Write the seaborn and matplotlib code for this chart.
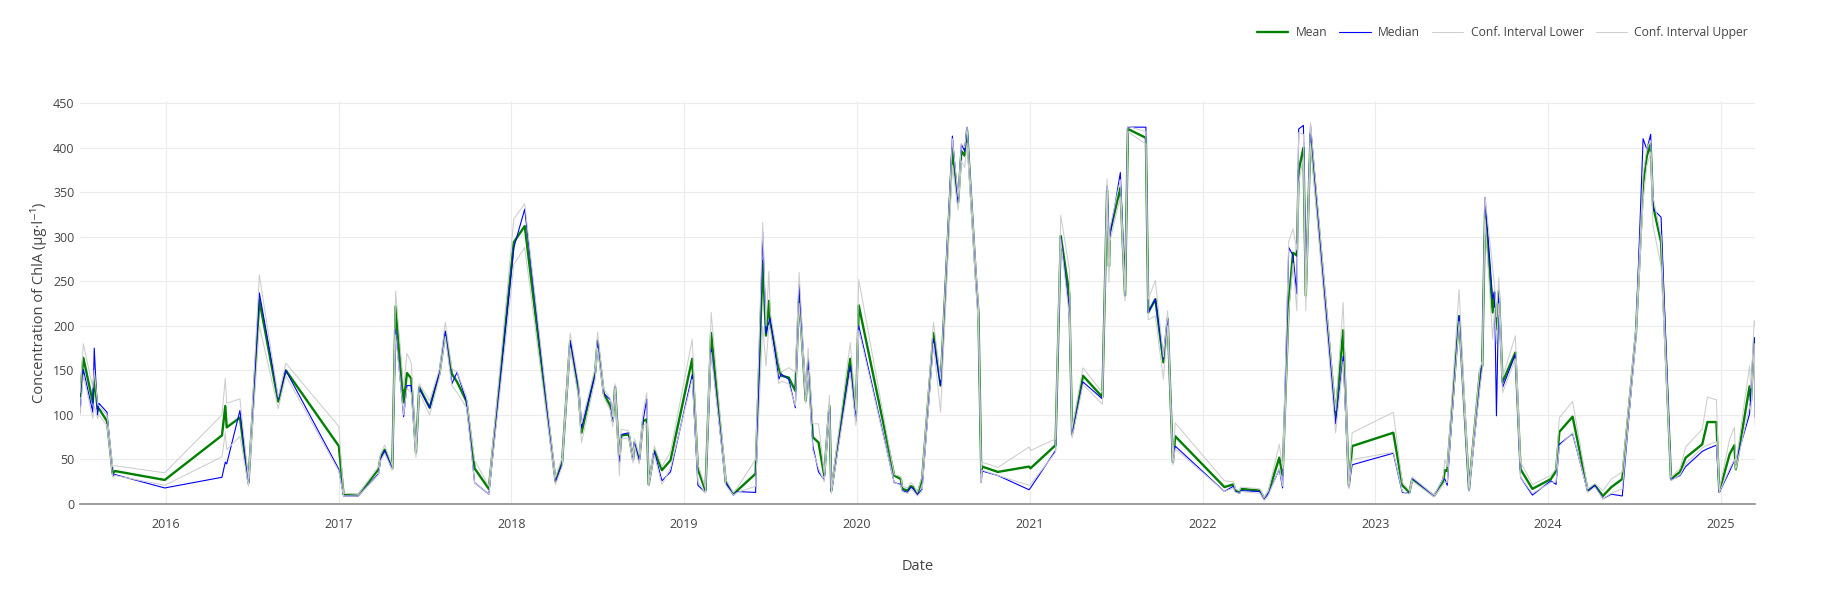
"""
ChlA concentration over time: mean, median and confidence interval bounds
"""

import matplotlib
matplotlib.use('Agg')
import matplotlib.pyplot as plt
import matplotlib.dates as mdates
import pandas as pd
import seaborn as sns

# ============================================================================
# Data
# ============================================================================
dates = [
    # 2015
    '2015-07-04', '2015-07-11', '2015-07-31', '2015-08-03', '2015-08-10', '2015-08-13',
    '2015-08-30', '2015-09-11', '2015-09-16', '2015-12-30',
    # 2016
    '2016-04-29', '2016-05-06', '2016-05-09', '2016-06-06', '2016-06-24', '2016-07-17',
    '2016-08-26', '2016-09-11',
    # 2017
    '2017-01-01', '2017-01-11', '2017-02-11', '2017-03-26', '2017-03-30', '2017-04-08',
    '2017-04-24', '2017-05-01', '2017-05-18', '2017-05-25', '2017-06-03', '2017-06-13',
    '2017-06-20', '2017-07-12', '2017-08-02', '2017-08-14', '2017-08-28', '2017-09-08',
    '2017-09-28', '2017-10-15', '2017-11-14',
    # 2018
    '2018-01-06', '2018-01-29', '2018-04-04', '2018-04-18', '2018-05-05', '2018-05-23',
    '2018-05-29', '2018-06-27', '2018-07-02', '2018-07-15', '2018-07-29', '2018-08-03',
    '2018-08-08', '2018-08-17', '2018-08-21', '2018-09-06', '2018-09-15', '2018-09-18',
    '2018-09-28', '2018-10-06', '2018-10-14', '2018-10-18', '2018-10-30', '2018-11-15',
    '2018-12-03',
    # 2019
    '2019-01-18', '2019-01-30', '2019-02-15', '2019-02-27', '2019-03-30', '2019-04-15',
    '2019-04-23', '2019-06-01', '2019-06-16', '2019-06-23', '2019-06-29', '2019-07-02',
    '2019-07-20', '2019-07-25', '2019-08-10', '2019-08-24', '2019-09-01', '2019-09-15',
    '2019-09-20', '2019-09-30', '2019-10-12', '2019-10-24', '2019-11-04', '2019-11-08',
    '2019-12-18', '2019-12-30',
    # 2020
    '2020-01-05', '2020-03-20', '2020-04-03', '2020-04-06', '2020-04-17', '2020-04-24',
    '2020-04-29', '2020-05-08', '2020-05-18', '2020-06-11', '2020-06-26', '2020-07-21',
    '2020-08-02', '2020-08-09', '2020-08-16', '2020-08-21', '2020-09-09', '2020-09-14',
    '2020-09-20', '2020-09-22', '2020-10-25', '2020-12-30',
    # 2021
    '2021-01-02', '2021-02-24', '2021-03-07', '2021-03-25', '2021-03-31', '2021-04-23',
    '2021-06-03', '2021-06-13', '2021-06-17', '2021-06-19', '2021-07-11', '2021-07-21',
    '2021-07-27', '2021-09-03', '2021-09-08', '2021-09-23', '2021-10-10', '2021-10-19',
    '2021-10-30', '2021-11-04',
    # 2022
    '2022-02-16', '2022-03-07', '2022-03-11', '2022-03-20', '2022-03-23', '2022-05-02',
    '2022-05-11', '2022-05-20', '2022-06-12', '2022-06-19', '2022-07-02', '2022-07-11',
    '2022-07-19', '2022-07-23', '2022-08-02', '2022-08-07', '2022-08-17', '2022-10-09',
    '2022-10-25', '2022-11-06', '2022-11-13',
    # 2023
    '2023-02-08', '2023-02-27', '2023-03-14', '2023-03-20', '2023-05-05', '2023-05-24',
    '2023-05-28', '2023-06-02', '2023-06-27', '2023-07-18', '2023-08-10', '2023-08-15',
    '2023-08-21', '2023-09-06', '2023-09-10', '2023-09-14', '2023-09-19', '2023-09-27',
    '2023-10-24', '2023-11-04', '2023-11-29',
    # 2024
    '2024-01-07', '2024-01-18', '2024-01-25', '2024-02-22', '2024-03-25', '2024-04-09',
    '2024-04-26', '2024-05-14', '2024-06-06', '2024-07-05', '2024-07-20', '2024-07-28',
    '2024-08-05', '2024-08-10', '2024-08-27', '2024-09-17', '2024-10-06', '2024-10-18',
    '2024-11-22', '2024-12-03', '2024-12-22', '2024-12-28',
    # 2025
    '2025-01-19', '2025-01-29', '2025-02-01', '2025-03-02', '2025-03-05', '2025-03-12',
    '2025-03-14',
]

mean_vals = [
    121, 164, 114, 144, 107, 107, 93, 34, 37, 27,
    77, 110, 86, 97, 24, 229, 115, 150,
    65, 11, 10, 39, 52, 61, 40, 222, 114, 147, 141, 58, 131, 108, 147, 193, 146, 137, 115, 40, 17,
    294, 312, 26, 47, 183, 125, 80, 148, 183, 124, 110, 93, 131, 49, 77, 78, 50, 69, 50, 93, 95, 22, 60, 38, 49,
    163, 39, 15, 192, 24, 11, 15, 34, 273, 189, 228, 204, 153, 144, 142, 127, 234, 116, 159, 75, 69, 32, 110, 15, 163, 99,
    223, 32, 28, 17, 15, 20, 19, 11, 28, 192, 133, 400, 338, 396, 391, 420, 252, 215, 35, 42, 36, 42,
    40, 66, 301, 236, 79, 144, 120, 352, 267, 305, 355, 234, 421, 411, 215, 230, 159, 208, 47, 76,
    19, 22, 15, 13, 17, 15, 6, 13, 52, 32, 226, 282, 279, 374, 400, 234, 415, 99, 195, 21, 65,
    80, 21, 13, 28, 9, 24, 38, 37, 211, 17, 148, 155, 329, 215, 237, 196, 239, 137, 170, 39, 17,
    28, 37, 81, 98, 15, 21, 9, 19, 28, 193, 359, 391, 404, 335, 294, 28, 36, 52, 67, 92, 92, 14,
    56, 66, 39, 132, 116, 185, 185,
]

median_vals = [
    103, 151, 103, 175, 100, 113, 103, 32, 33, 18,
    30, 47, 45, 105, 22, 237, 118, 150,
    39, 9, 9, 34, 50, 60, 40, 196, 98, 133, 133, 57, 130, 108, 148, 194, 135, 148, 115, 24, 11,
    288, 331, 24, 45, 183, 131, 86, 145, 184, 124, 117, 92, 132, 47, 78, 80, 49, 71, 47, 93, 118, 22, 59, 26, 36,
    145, 21, 13, 174, 24, 10, 14, 13, 305, 191, 204, 209, 140, 146, 140, 108, 247, 120, 163, 65, 36, 27, 110, 13, 155, 93,
    200, 24, 22, 15, 13, 19, 17, 10, 17, 185, 133, 413, 335, 404, 396, 423, 256, 208, 24, 37, 32, 16,
    18, 60, 300, 219, 77, 137, 118, 357, 297, 301, 372, 234, 423, 423, 215, 230, 163, 209, 47, 65,
    14, 20, 14, 12, 15, 14, 5, 12, 39, 18, 288, 279, 236, 421, 425, 241, 425, 90, 166, 19, 44,
    57, 13, 12, 29, 9, 28, 28, 21, 211, 15, 133, 159, 344, 230, 239, 99, 237, 131, 168, 30, 10,
    26, 22, 67, 79, 14, 21, 6, 11, 9, 193, 410, 398, 415, 331, 322, 27, 32, 42, 59, 62, 66, 13,
    37, 49, 47, 101, 125, 187, 97,
]

ci_lower = [
    100, 145, 96, 110, 96, 100, 88, 30, 32, 21,
    53, 80, 61, 76, 20, 200, 107, 144,
    37, 9, 9, 33, 48, 57, 38, 190, 100, 130, 125, 52, 125, 100, 143, 188, 133, 125, 108, 24, 11,
    269, 288, 22, 42, 175, 118, 69, 140, 175, 120, 105, 87, 125, 32, 73, 74, 46, 65, 45, 88, 90, 20, 55, 22, 40,
    140, 25, 12, 170, 21, 10, 13, 20, 200, 155, 200, 195, 135, 138, 135, 110, 225, 113, 150, 60, 40, 25, 100, 12, 148, 88,
    195, 24, 21, 14, 12, 16, 15, 9, 15, 180, 103, 380, 330, 385, 378, 405, 240, 200, 24, 38, 32, 21,
    22, 58, 297, 211, 74, 134, 112, 340, 249, 295, 345, 228, 418, 404, 207, 211, 140, 200, 44, 62,
    14, 18, 13, 12, 14, 12, 4, 10, 40, 20, 215, 270, 217, 360, 390, 217, 405, 80, 160, 17, 50,
    58, 14, 11, 26, 8, 22, 25, 24, 205, 14, 130, 150, 320, 185, 220, 180, 225, 125, 163, 30, 12,
    24, 25, 65, 80, 13, 19, 6, 12, 17, 185, 340, 380, 395, 312, 267, 26, 33, 45, 63, 66, 70, 13,
    40, 50, 39, 110, 105, 180, 88,
]

ci_upper = [
    125, 180, 130, 150, 112, 110, 100, 42, 43, 35,
    100, 141, 113, 118, 28, 257, 120, 158,
    87, 12, 11, 42, 56, 66, 43, 239, 130, 169, 159, 62, 135, 116, 152, 204, 152, 148, 120, 49, 20,
    320, 337, 30, 52, 192, 135, 90, 153, 193, 129, 118, 98, 135, 55, 84, 82, 54, 73, 55, 103, 125, 25, 65, 42, 58,
    185, 45, 18, 215, 28, 13, 18, 50, 316, 200, 261, 215, 158, 148, 153, 148, 260, 125, 175, 90, 90, 35, 122, 18, 181, 105,
    252, 33, 31, 20, 18, 24, 22, 13, 32, 204, 140, 410, 345, 405, 400, 423, 262, 222, 40, 47, 41, 64,
    60, 73, 324, 264, 85, 153, 125, 365, 280, 310, 364, 240, 424, 418, 230, 251, 165, 217, 50, 91,
    26, 25, 17, 15, 19, 17, 7, 15, 67, 40, 295, 309, 285, 417, 415, 245, 428, 105, 226, 24, 80,
    103, 24, 15, 30, 10, 28, 50, 42, 241, 20, 153, 160, 345, 265, 245, 210, 254, 142, 189, 47, 22,
    32, 40, 97, 115, 17, 23, 15, 28, 36, 200, 370, 400, 408, 345, 300, 30, 40, 64, 84, 120, 117, 16,
    73, 86, 45, 155, 130, 206, 200,
]

df = pd.DataFrame({
    'date': pd.to_datetime(dates),
    'mean': mean_vals,
    'median': median_vals,
    'ci_lower': ci_lower,
    'ci_upper': ci_upper,
})

# ============================================================================
# Style
# ============================================================================
sns.set_theme(style='white')
plt.rcParams['font.family'] = ['Open Sans', 'DejaVu Sans']
text_color = '#444444'
ci_color = '#cdcdcd'

fig, ax = plt.subplots(figsize=(18.36, 6), dpi=100)
fig.subplots_adjust(left=0.0436, right=0.956, top=0.832, bottom=0.16)

sns.lineplot(data=df, x='date', y='mean', ax=ax, color='green', linewidth=1.7,
             label='Mean', estimator=None, zorder=2)
sns.lineplot(data=df, x='date', y='median', ax=ax, color='blue', linewidth=0.8,
             label='Median', estimator=None, zorder=3)
sns.lineplot(data=df, x='date', y='ci_lower', ax=ax, color=ci_color, linewidth=0.75,
             label='Conf. Interval Lower', estimator=None, zorder=4)
sns.lineplot(data=df, x='date', y='ci_upper', ax=ax, color=ci_color, linewidth=0.75,
             label='Conf. Interval Upper', estimator=None, zorder=4)

# Axes
ax.set_xlim(df['date'].min(), df['date'].max())
ax.set_ylim(0, 452.6)
ax.set_yticks(range(0, 451, 50))
ax.xaxis.set_major_locator(mdates.YearLocator())
ax.xaxis.set_major_formatter(mdates.DateFormatter('%Y'))

ax.grid(True, color='#ececec', linewidth=0.8)
ax.set_axisbelow(True)
for side in ['top', 'right', 'left']:
    ax.spines[side].set_visible(False)
ax.spines['bottom'].set_color('#8c8c8c')
ax.spines['bottom'].set_linewidth(1.2)
ax.spines['bottom'].set_zorder(5)

ax.tick_params(axis='both', length=0, labelsize=9, labelcolor=text_color)
ax.tick_params(axis='x', pad=10)
ax.tick_params(axis='y', pad=4)

ax.set_xlabel('Date', fontsize=10.5, color=text_color, labelpad=20)
ax.set_ylabel('Concentration of ChlA (µg·l⁻¹)', fontsize=10.5, color=text_color, labelpad=4)

# Legend, horizontal at the top right
ax.legend(loc='upper right', bbox_to_anchor=(0.958, 0.975), bbox_transform=fig.transFigure,
          ncol=4, frameon=False, fontsize=8.7, handlelength=2.6, handletextpad=0.6,
          columnspacing=1.0, labelcolor=text_color)

plt.savefig('out.png', dpi=100)
plt.close()
